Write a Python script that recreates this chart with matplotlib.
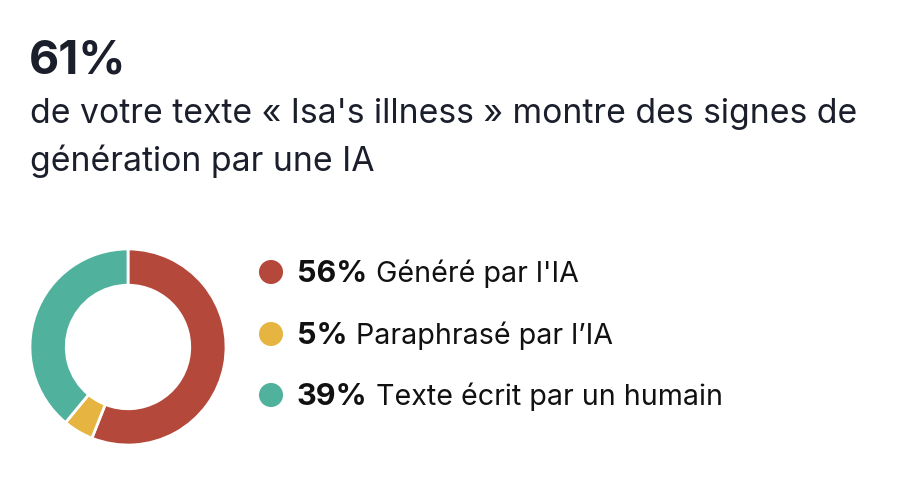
import matplotlib.pyplot as plt

# donnees
pourcentages = [56, 5, 39]
libelles = ["Généré par l'IA", "Paraphrasé par l’IA", "Texte écrit par un humain"]
couleurs = ["#B4493B", "#E6B541", "#50B19D"]
score_total = "61%"
sous_titre = ["de votre texte « Isa's illness » montre des signes de",
              "génération par une IA"]

W, H = 900, 484
plt.rcParams["font.family"] = ["Inter", "DejaVu Sans"]
txt_col = "#1b1e2b"

fig = plt.figure(figsize=(W / 100, H / 100), dpi=100)
fig.patch.set_facecolor("white")


def px(x, y):
    return x / W, 1 - y / H


# titre + sous-titre
fig.text(*px(29, 73), score_total, fontsize=33.5, fontweight="bold",
         color=txt_col, va="baseline", ha="left")
fig.text(*px(30, 123), sous_titre[0], fontsize=24.3, color=txt_col,
         va="baseline", ha="left")
fig.text(*px(30, 171), sous_titre[1], fontsize=24.3, color=txt_col,
         va="baseline", ha="left")

# anneau
ax = fig.add_axes([28 / W, 37 / H, 200 / W, 200 / H])
ax.pie(pourcentages, colors=couleurs, startangle=90, counterclock=False,
       radius=1, wedgeprops=dict(width=0.37, edgecolor="white", linewidth=2))
ax.set_xlim(-1.02, 1.02)
ax.set_ylim(-1.02, 1.02)
ax.set_aspect("equal")
ax.axis("off")

# legende
lax = fig.add_axes([0, 0, 1, 1])
lax.set_xlim(0, W)
lax.set_ylim(H, 0)
lax.axis("off")
rows_y = [272, 334, 395]
for p, lab, c, yc in zip(pourcentages, libelles, couleurs, rows_y):
    lax.scatter([271], [yc], s=300, color=c, edgecolors="none")
    t = lax.text(297, yc + 10, f"{p}%", fontsize=22, fontweight="bold",
                 color="#111111", va="baseline", ha="left")
    lax.annotate(lab, xy=(1, 0), xycoords=t, xytext=(6, 0),
                 textcoords="offset points", fontsize=20.6, color="#111111",
                 va="bottom", ha="left")

fig.savefig("out.png", dpi=100, facecolor="white")
